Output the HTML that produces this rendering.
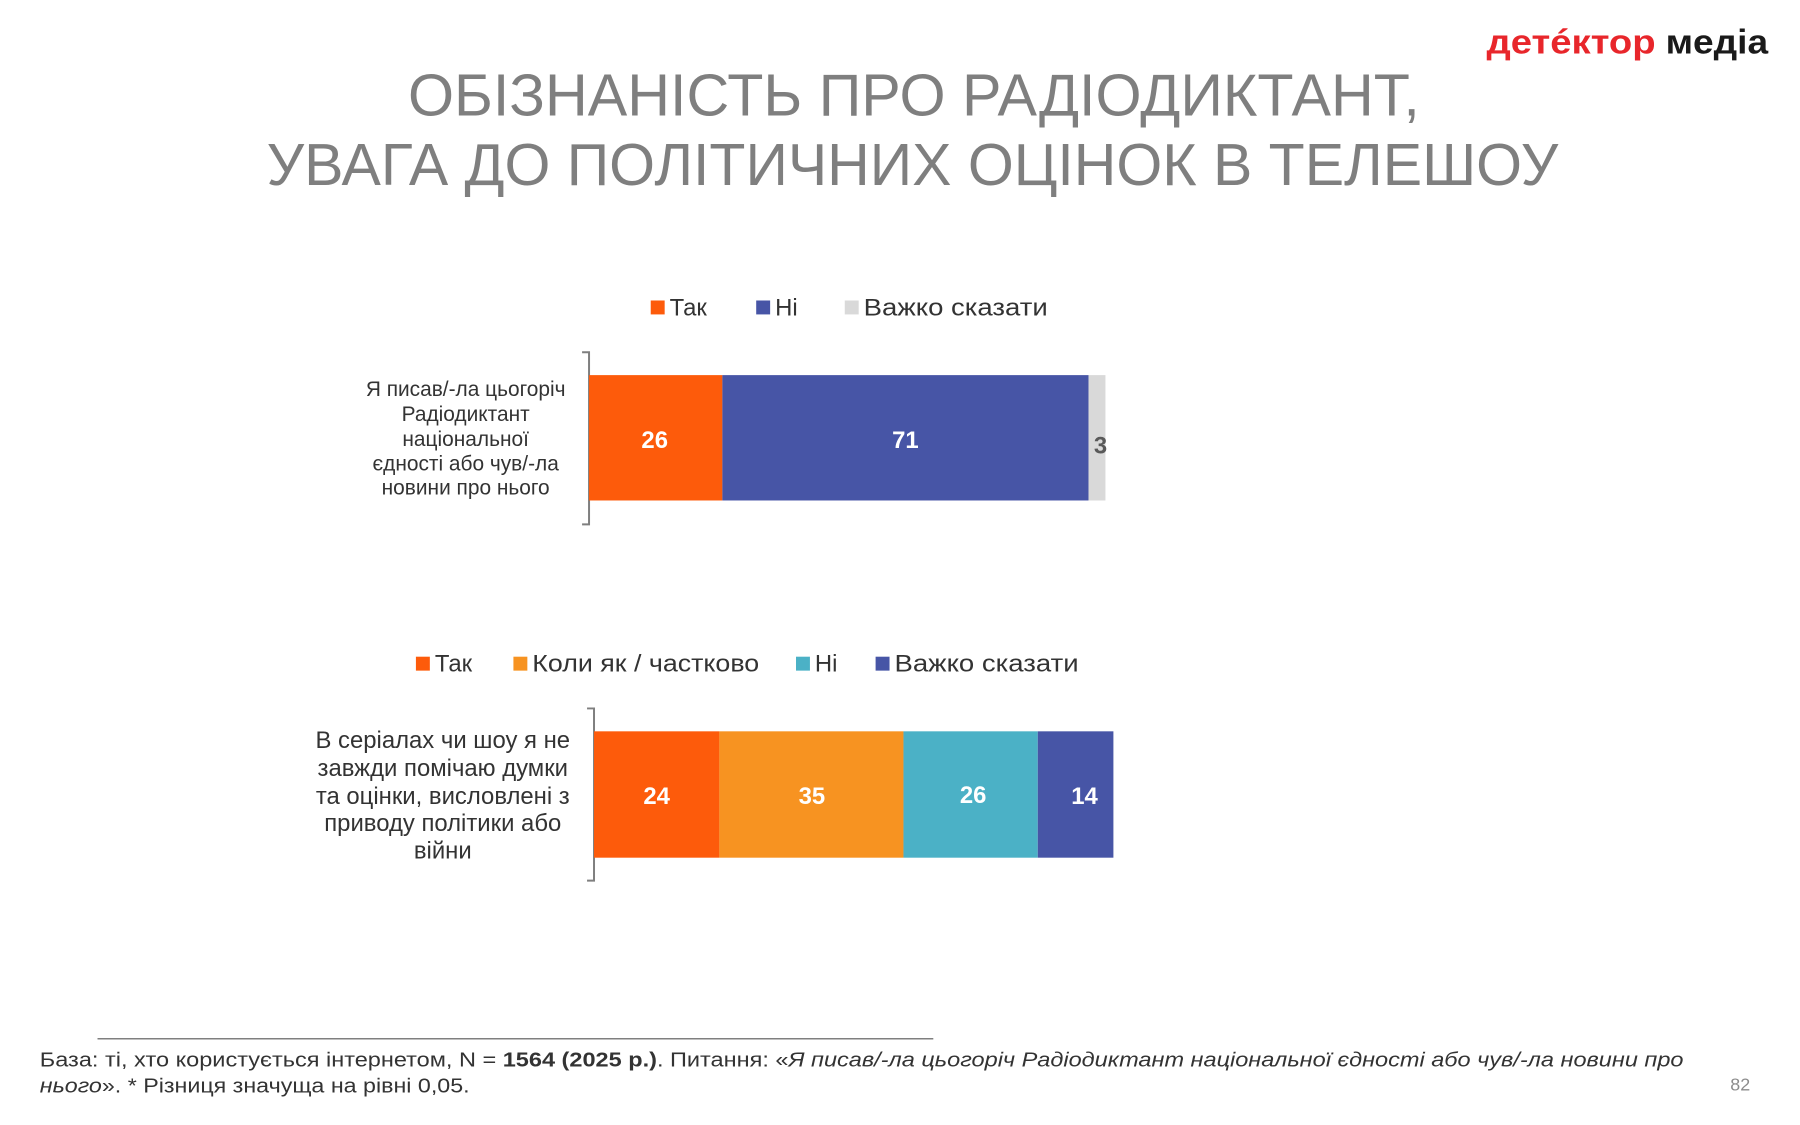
<!DOCTYPE html>
<html><head><meta charset="utf-8"><style>
html,body{margin:0;padding:0;background:#fff;}
svg{display:block;}
text{font-family:"Liberation Sans",sans-serif;}
</style></head><body>
<svg width="1800" height="1125" viewBox="0 0 1800 1125" xmlns="http://www.w3.org/2000/svg">
<rect width="1800" height="1125" fill="#fff"/>
<g transform="scale(0.995)">
<!-- logo -->
<text x="1494" y="54" font-size="34" font-weight="bold" fill="#e8262b" textLength="170" lengthAdjust="spacingAndGlyphs">детéктор</text>
<text x="1674" y="54" font-size="34" font-weight="bold" fill="#1a1a1a" textLength="103" lengthAdjust="spacingAndGlyphs">медіа</text>
<!-- title -->
<text x="410" y="116" font-size="60" fill="#7f7f7f" textLength="1017" lengthAdjust="spacingAndGlyphs">ОБІЗНАНІСТЬ ПРО РАДІОДИКТАНТ,</text>
<text x="268" y="186" font-size="60" fill="#7f7f7f" textLength="1298" lengthAdjust="spacingAndGlyphs">УВАГА ДО ПОЛІТИЧНИХ ОЦІНОК В ТЕЛЕШОУ</text>
<!-- legend 1 -->
<g font-size="24" fill="#333">
<rect x="654" y="302" width="14" height="14" fill="#fd5b0b"/><text x="673" y="317">Так</text>
<rect x="760" y="302" width="14" height="14" fill="#4755a6"/><text x="779" y="317">Ні</text>
<rect x="849" y="302" width="14" height="14" fill="#d9d9d9"/><text x="868" y="317" textLength="185" lengthAdjust="spacingAndGlyphs">Важко сказати</text>
</g>
<!-- bar 1 -->
<path d="M585 354 H592 V527 H585" fill="none" stroke="#7f7f7f" stroke-width="2"/>
<rect x="592" y="377" width="134" height="126" fill="#fd5b0b"/>
<rect x="726" y="377" width="368" height="126" fill="#4755a6"/>
<rect x="1094" y="377" width="17" height="126" fill="#d9d9d9"/>
<g font-size="24" font-weight="bold" fill="#fff" text-anchor="middle">
<text x="658" y="450">26</text><text x="910" y="450">71</text>
</g>
<text x="1106" y="456" font-size="24" font-weight="bold" fill="#595959" text-anchor="middle">3</text>
<g font-size="21" fill="#333" text-anchor="middle">
<text x="468" y="398">Я писав/-ла цьогоріч</text>
<text x="468" y="423">Радіодиктант</text>
<text x="468" y="448">національної</text>
<text x="468" y="473">єдності або чув/-ла</text>
<text x="468" y="497">новини про нього</text>
</g>
<!-- legend 2 -->
<g font-size="24" fill="#333">
<rect x="418" y="660" width="14" height="14" fill="#fd5b0b"/><text x="437" y="675">Так</text>
<rect x="516" y="660" width="14" height="14" fill="#f79321"/><text x="535" y="675" textLength="228" lengthAdjust="spacingAndGlyphs">Коли як / частково</text>
<rect x="800" y="660" width="14" height="14" fill="#4bb1c6"/><text x="819" y="675">Ні</text>
<rect x="880" y="660" width="14" height="14" fill="#4755a6"/><text x="899" y="675" textLength="185" lengthAdjust="spacingAndGlyphs">Важко сказати</text>
</g>
<!-- bar 2 -->
<path d="M590 712 H597 V885 H590" fill="none" stroke="#7f7f7f" stroke-width="2"/>
<rect x="597" y="735" width="126" height="127" fill="#fd5b0b"/>
<rect x="723" y="735" width="185" height="127" fill="#f79321"/>
<rect x="908" y="735" width="135" height="127" fill="#4bb1c6"/>
<rect x="1043" y="735" width="76" height="127" fill="#4755a6"/>
<g font-size="24" font-weight="bold" fill="#fff" text-anchor="middle">
<text x="660" y="808">24</text><text x="816" y="808">35</text><text x="978" y="807">26</text><text x="1090" y="808">14</text>
</g>
<g font-size="24" fill="#333" text-anchor="middle">
<text x="445" y="752">В серіалах чи шоу я не</text>
<text x="445" y="780">завжди помічаю думки</text>
<text x="445" y="808">та оцінки, висловлені з</text>
<text x="445" y="835">приводу політики або</text>
<text x="445" y="863">війни</text>
</g>
<!-- footer -->
<line x1="98" y1="1044" x2="938" y2="1044" stroke="#7f7f7f" stroke-width="1.5"/>
<text x="40" y="1072" font-size="20" fill="#333" textLength="1652" lengthAdjust="spacingAndGlyphs">База: ті, хто користується інтернетом, N = <tspan font-weight="bold">1564 (2025 р.)</tspan>. Питання: «<tspan font-style="italic">Я писав/-ла цьогоріч Радіодиктант національної єдності або чув/-ла новини про</tspan></text>
<text x="40" y="1098" font-size="20" fill="#333" textLength="432" lengthAdjust="spacingAndGlyphs"><tspan font-style="italic">нього</tspan>». * Різниця значуща на рівні 0,05.</text>
<text x="1739" y="1096" font-size="18" fill="#8c8c8c">82</text>
</g>
</svg>
</body></html>
